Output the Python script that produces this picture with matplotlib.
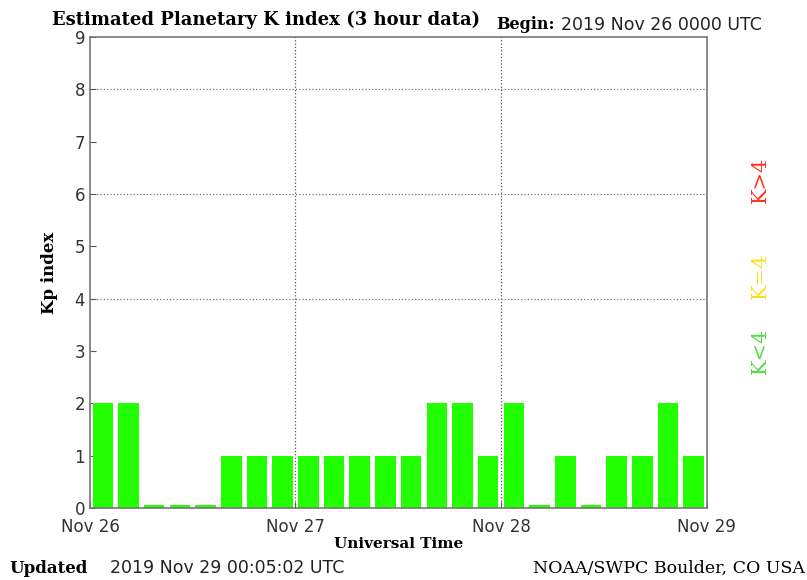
import matplotlib
matplotlib.use("Agg")
import matplotlib.pyplot as plt

# Kp values, 3-hour intervals, Nov 26 00 UTC to Nov 29 00 UTC
kp_values = [2, 2, 0, 0, 0, 1, 1, 1,
             1, 1, 1, 1, 1, 2, 2, 1,
             2, 0, 1, 0, 1, 1, 2, 1]
day_labels = ["Nov 26", "Nov 27", "Nov 28", "Nov 29"]

# zero values are drawn as a thin stub
heights = [v if v > 0 else 0.05 for v in kp_values]
hours = [i * 3 + 1.5 for i in range(len(kp_values))]

fig = plt.figure(figsize=(8.07, 5.8), dpi=100)
ax = fig.add_axes([0.1115, 0.124, 0.764, 0.812])

ax.bar(hours, heights, width=2.4, color="#22ff00", edgecolor="none", zorder=2)

ax.set_xlim(0, 72)
ax.set_ylim(0, 9)
ax.set_xticks([0, 24, 48, 72])
ax.set_xticklabels(day_labels)
ax.set_yticks(range(10))
ax.tick_params(axis="both", direction="in", length=4, colors="#555555",
               labelcolor="#333333", labelsize=12)
ax.tick_params(axis="x", pad=7)

for s in ax.spines.values():
    s.set_color("#777777")
    s.set_linewidth(1.2)

for y in [4, 6, 8]:
    ax.axhline(y, color="#777777", linestyle=":", linewidth=0.9, zorder=1)
for x in [24, 48]:
    ax.axvline(x, color="#555555", linestyle=":", linewidth=0.9, zorder=3)

serif = "DejaVu Serif"
ax.set_ylabel("Kp index", family=serif, fontweight="bold", fontsize=12, labelpad=12)
ax.set_xlabel("Universal Time", family=serif, fontweight="bold", fontsize=11, labelpad=1)

fig.text(0.064, 0.965, "Estimated Planetary K index (3 hour data)", family=serif,
         fontweight="bold", fontsize=13, va="center")
fig.text(0.615, 0.957, "Begin:", family=serif, fontweight="bold", fontsize=11.5, va="center")
fig.text(0.695, 0.957, "2019 Nov 26 0000 UTC", fontsize=12.5, color="#222222", va="center")

fig.text(0.942, 0.69, "K>4", family=serif, fontsize=15, color="#ff3322",
         rotation=90, ha="center", va="center")
fig.text(0.942, 0.525, "K=4", family=serif, fontsize=15, color="#ffdd22",
         rotation=90, ha="center", va="center")
fig.text(0.942, 0.395, "K<4", family=serif, fontsize=15, color="#55dd44",
         rotation=90, ha="center", va="center")

fig.text(0.012, 0.02, "Updated", family=serif, fontweight="bold", fontsize=12, va="center")
fig.text(0.136, 0.02, "2019 Nov 29 00:05:02 UTC", fontsize=12.5, color="#222222", va="center")
fig.text(0.997, 0.02, "NOAA/SWPC Boulder, CO USA", family=serif, fontsize=12.5,
         ha="right", va="center")

fig.savefig("out.png", dpi=100)
